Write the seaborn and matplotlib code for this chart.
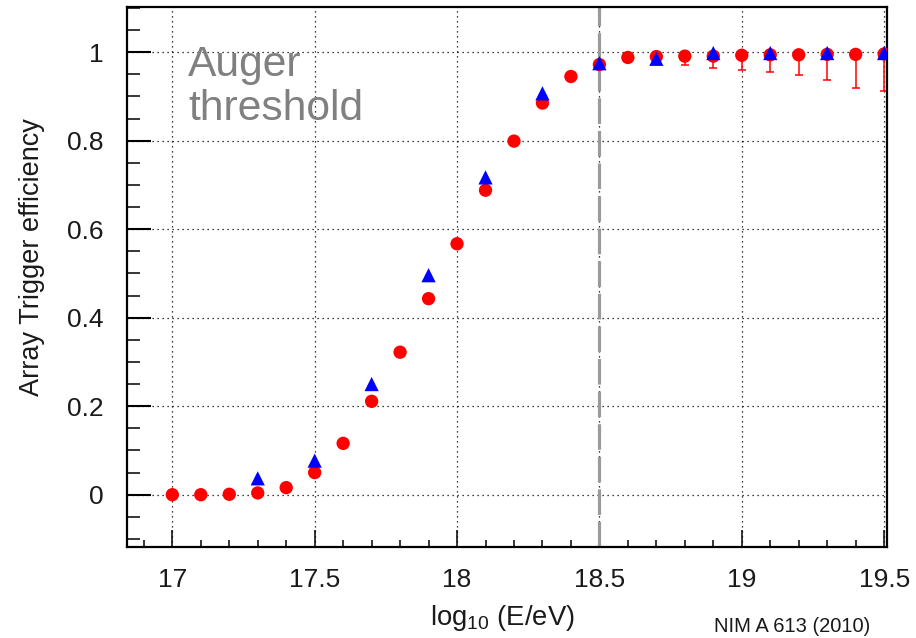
import numpy as np
import pandas as pd
import matplotlib
matplotlib.use("Agg")
import matplotlib.pyplot as plt
import seaborn as sns
from matplotlib.ticker import FixedLocator, FixedFormatter, MultipleLocator

# ---------------- data ----------------
energy_red = [17.0, 17.1, 17.2, 17.3, 17.4, 17.5, 17.6, 17.7, 17.8, 17.9,
              18.0, 18.1, 18.2, 18.3, 18.4, 18.5, 18.6, 18.7, 18.8, 18.9,
              19.0, 19.1, 19.2, 19.3, 19.4, 19.5]
eff_red = [0.0, 0.0, 0.001, 0.004, 0.016, 0.050, 0.116, 0.211, 0.322, 0.443,
           0.567, 0.688, 0.799, 0.885, 0.945, 0.972, 0.988, 0.990, 0.991, 0.991,
           0.993, 0.994, 0.994, 0.995, 0.995, 0.996]
err_red_low = [0, 0, 0, 0, 0, 0, 0, 0, 0, 0,
               0, 0, 0, 0, 0, 0, 0, 0, 0.020, 0.027,
               0.033, 0.038, 0.045, 0.057, 0.075, 0.084]

energy_blue = [17.3, 17.5, 17.7, 17.9, 18.1, 18.3, 18.5, 18.7, 18.9, 19.1, 19.3, 19.5]
eff_blue = [0.037, 0.077, 0.250, 0.496, 0.717, 0.907, 0.975, 0.985, 0.998, 0.998, 0.998, 0.998]

xticks = [17, 17.5, 18, 18.5, 19, 19.5]
xtick_labels = ["17", "17.5", "18", "18.5", "19", "19.5"]
yticks = [0, 0.2, 0.4, 0.6, 0.8, 1]
ytick_labels = ["0", "0.2", "0.4", "0.6", "0.8", "1"]
threshold_energy = 18.5
annotation = "Auger\nthreshold"
source_note = "NIM A 613 (2010)"

# ---------------- style ----------------
sns.set_theme(style="white")
plt.rcParams['font.family'] = ['Liberation Sans', 'DejaVu Sans']
plt.rcParams['mathtext.default'] = 'regular'

fig = plt.figure(figsize=(9.16, 6.38), dpi=100)
ax = fig.add_axes([0.139, 0.1431, 0.968 - 0.139, 0.989 - 0.1431])

df_red = pd.DataFrame({"E": energy_red, "eff": eff_red, "err": err_red_low})
df_blue = pd.DataFrame({"E": energy_blue, "eff": eff_blue})

ax.grid(True, which='major', color='black', linestyle=(0, (1, 3)), linewidth=0.9)
ax.set_axisbelow(True)

ax.axvline(threshold_energy, color='#9a9a9a', lw=2.3, dashes=(8, 2.2), zorder=1.5)

ax.errorbar(df_red["E"], df_red["eff"],
            yerr=[df_red["err"], np.zeros(len(df_red))],
            fmt='none', ecolor='red', elinewidth=1.1, capsize=3, capthick=1.1, zorder=2)

sns.scatterplot(data=df_red, x="E", y="eff", ax=ax, color='#ff0000', marker='o',
                s=92, edgecolor='none', linewidth=0, zorder=3, legend=False)
sns.scatterplot(data=df_blue, x="E", y="eff", ax=ax, color='#0000ff', marker='^',
                s=105, edgecolor='none', linewidth=0, zorder=4, legend=False)

ax.set_xlim(16.842, 19.509)
ax.set_ylim(-0.1175, 1.102)

ax.xaxis.set_major_locator(FixedLocator(xticks))
ax.xaxis.set_major_formatter(FixedFormatter(xtick_labels))
ax.xaxis.set_minor_locator(MultipleLocator(0.1))
ax.yaxis.set_major_locator(FixedLocator(yticks))
ax.yaxis.set_major_formatter(FixedFormatter(ytick_labels))
ax.yaxis.set_minor_locator(MultipleLocator(0.05))

ax.tick_params(axis='both', which='both', direction='in', bottom=True, left=True,
               top=False, right=False, colors='black', labelcolor='#1a1a1a')
ax.tick_params(axis='y', which='major', length=17, width=1.5, pad=17, labelsize=19)
ax.tick_params(axis='y', which='minor', length=9, width=1.1)
ax.tick_params(axis='x', which='major', length=12, width=1.1, pad=15, labelsize=19)
ax.tick_params(axis='x', which='minor', length=5, width=1.1)

for sp in ax.spines.values():
    sp.set_visible(True)
    sp.set_color('black')
    sp.set_linewidth(1.6)

ax.set_xlabel(r"log$_{10}$ (E/eV)", fontsize=19.8, color='#1a1a1a', va='center')
ax.xaxis.set_label_coords(0.494, -0.132)
ax.set_ylabel("Array Trigger efficiency", fontsize=19.5, color='#1a1a1a',
              va='center', ha='center')
ax.yaxis.set_label_coords(-0.125, 0.536)

ax.text(17.055, 1.016, annotation, fontsize=30.7, color='#808080', ha='left', va='top',
        linespacing=1.12, zorder=5)

fig.text(870 / 916, 1 - 626 / 638, source_note, fontsize=14.5, color='#1a1a1a',
         ha='right', va='center')

fig.savefig("out.png", dpi=100)
